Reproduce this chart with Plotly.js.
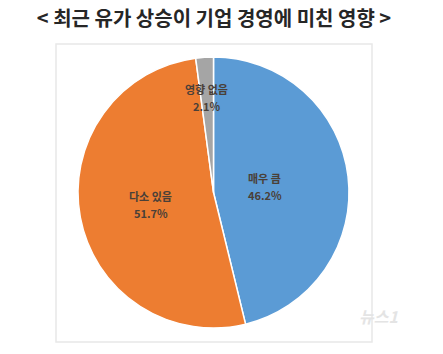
<!DOCTYPE html>
<html>
<head>
<meta charset="utf-8">
<script src="https://cdn.plot.ly/plotly-3.0.1.min.js"></script>
<style>html,body{margin:0;padding:0;background:#fff;}#chart{width:443px;height:354px;}</style>
</head>
<body>
<div id="chart"></div>
<script>
const categories = ['매우 큼', '다소 있음', '영향 없음'];
const values = [46.2, 51.7, 2.1];
const valueLabels = ['46.2%', '51.7%', '2.1%'];
const colors = ['#5B9BD5', '#ED7D31', '#A5A5A5'];
const titleText = '< 최근 유가 상승이 기업 경영에 미친 영향 >';

const W = 443, H = 354;
const dom = {x: [77 / W, 350 / W], y: [1 - 328 / H, 1 - 57 / H]};
const cx = (dom.x[0] + dom.x[1]) / 2, cy = (dom.y[0] + dom.y[1]) / 2;
const rPx = Math.min((dom.x[1] - dom.x[0]) * W, (dom.y[1] - dom.y[0]) * H) / 2;
const labelRadius = [0.38, 0.47, 0.78];
const lineGap = 8.5;

const total = values.reduce((a, b) => a + b, 0);
let cum = 0;
const annotations = [];
const labelFont = {family: 'Noto Sans CJK KR', size: 11, color: '#4a4038', weight: 600};
categories.forEach((c, i) => {
  const mid = (cum + values[i] / 2) / total * 2 * Math.PI;
  cum += values[i];
  const px = cx * W + Math.sin(mid) * rPx * labelRadius[i];
  const py = (1 - cy) * H - Math.cos(mid) * rPx * labelRadius[i];
  annotations.push({
    xref: 'paper', yref: 'paper', x: px / W, y: 1 - (py - lineGap) / H,
    text: c, showarrow: false, font: labelFont
  });
  annotations.push({
    xref: 'paper', yref: 'paper', x: px / W, y: 1 - (py + lineGap) / H,
    text: valueLabels[i], showarrow: false, font: labelFont
  });
});
annotations.push({
  xref: 'paper', yref: 'paper', x: 400 / W, y: 1 - 330 / H,
  text: '<i>뉴스1</i>', showarrow: false,
  font: {family: 'Noto Sans CJK KR', size: 16, color: '#e4e4e4', weight: 700}
});

const data = [{
  type: 'pie',
  labels: categories,
  values: values,
  sort: false,
  direction: 'clockwise',
  rotation: 0,
  marker: {colors: colors, line: {color: '#ffffff', width: 1.5}},
  textinfo: 'none',
  hoverinfo: 'none',
  domain: dom
}];

const layout = {
  width: W, height: H,
  margin: {l: 0, r: 0, t: 0, b: 0},
  paper_bgcolor: '#ffffff',
  showlegend: false,
  title: {
    text: titleText,
    x: 214 / W, xanchor: 'center',
    y: 1 - 19 / H, yanchor: 'middle',
    font: {family: 'Noto Sans CJK KR', size: 20, color: '#262626', weight: 700}
  },
  shapes: [{
    type: 'rect', xref: 'paper', yref: 'paper',
    x0: 56 / W, x1: 372 / W, y0: 1 - 342 / H, y1: 1 - 44 / H,
    line: {color: '#e8e8e8', width: 1.5}, layer: 'below'
  }],
  annotations: annotations
};

Plotly.newPlot('chart', data, layout, {displayModeBar: false, staticPlot: true});
</script>
</body>
</html>
